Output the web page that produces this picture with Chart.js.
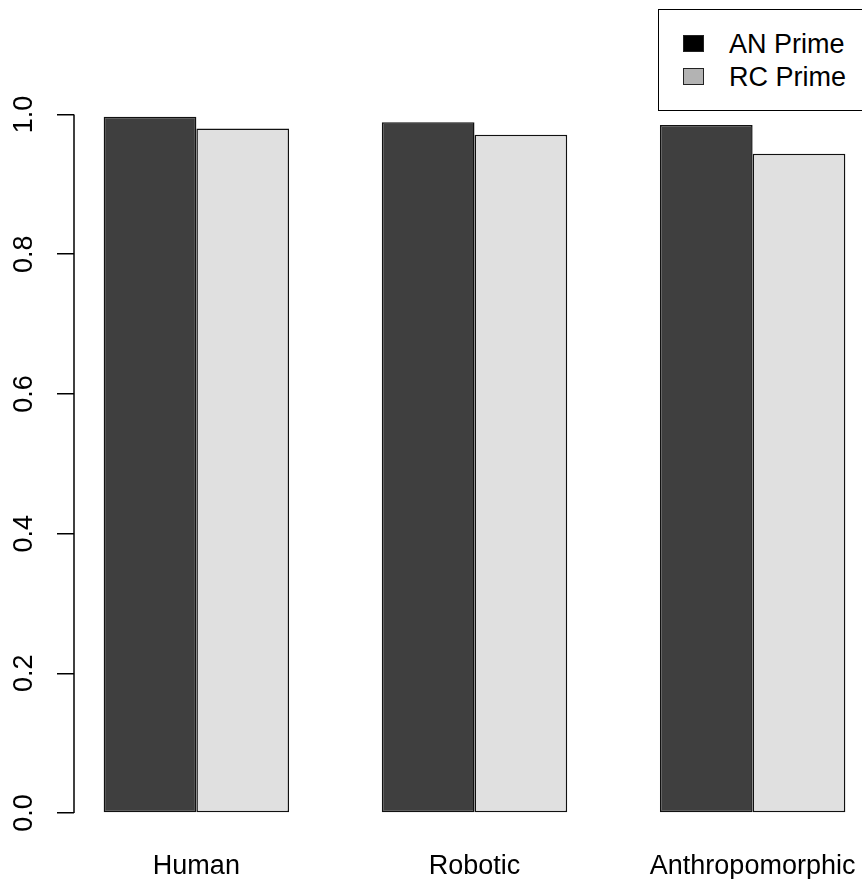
<!DOCTYPE html>
<html>
<head>
<meta charset="utf-8">
<script src="https://cdn.jsdelivr.net/npm/chart.js@4.4.1/dist/chart.umd.min.js"></script>
<style>
  html, body { margin: 0; padding: 0; background: #fff; overflow: hidden; }
  #wrap { position: relative; width: 880px; height: 879px; }
  #legend {
    position: absolute; left: 658px; top: 9px; width: 218px; height: 102px;
    border: 1.5px solid #000; box-sizing: border-box; background: #fff;
    font-family: "Liberation Sans", Arial, sans-serif; font-size: 27px; color: #000;
  }
  .item { position: absolute; left: 0; height: 32px; line-height: 32px; white-space: nowrap; }
  .swatch { position: absolute; left: 24px; top: 7px; width: 21px; height: 17px; box-sizing: border-box; border: 1px solid #222; }
  .lbl { position: absolute; left: 70px; top: 0; }
</style>
</head>
<body>
<div id="wrap">
  <canvas id="chart"></canvas>
  <div id="legend"></div>
</div>
<script>
var categories = ["Human", "Robotic", "Anthropomorphic"];
var seriesNames = ["AN Prime", "RC Prime"];
var anValues = [0.997, 0.989, 0.985];
var rcValues = [0.980, 0.971, 0.944];
var yTicks = [0, 0.2, 0.4, 0.6, 0.8, 1.0];

var barColors = ["#3f3f3f", "#e0e0e0"];
var legendColors = ["#000000", "#b3b3b3"];

Chart.defaults.font.family = "'Liberation Sans', Arial, sans-serif";
Chart.defaults.color = "#000";

function toPoints(values) {
  return values.map(function (v, i) { return { x: i, y: v }; });
}

// R-style axis line: only from first to last tick
var axisLine = {
  id: "axisLine",
  afterDraw: function (chart) {
    var y = chart.scales.y;
    var ctx = chart.ctx;
    var x = chart.chartArea.left;
    ctx.save();
    ctx.strokeStyle = "#000";
    ctx.lineWidth = 1.5;
    ctx.beginPath();
    ctx.moveTo(x, y.getPixelForValue(yTicks[0]));
    ctx.lineTo(x, y.getPixelForValue(yTicks[yTicks.length - 1]));
    ctx.stroke();
    ctx.restore();
  }
};

var ctx = document.getElementById("chart").getContext("2d");
var chart = new Chart(ctx, {
  type: "bar",
  data: {
    datasets: [
      {
        label: seriesNames[0],
        data: toPoints(anValues),
        backgroundColor: barColors[0],
        borderColor: "#111",
        borderWidth: 1.5,
        borderSkipped: false
      },
      {
        label: seriesNames[1],
        data: toPoints(rcValues),
        backgroundColor: barColors[1],
        borderColor: "#111",
        borderWidth: 1.5,
        borderSkipped: false
      }
    ]
  },
  options: {
    responsive: true,
    maintainAspectRatio: false,
    animation: false,
    categoryPercentage: 2 / 3,
    barPercentage: 1,
    layout: { padding: { left: 0, right: 5, top: 86.6, bottom: 0 } },
    plugins: { legend: { display: false }, tooltip: { enabled: false } },
    scales: {
      x: {
        type: "linear",
        offset: false,
        min: -0.44,
        max: 2.44,
        grid: { display: false, drawTicks: false },
        border: { display: false },
        afterBuildTicks: function (scale) {
          scale.ticks = categories.map(function (c, i) { return { value: i }; });
        },
        afterFit: function (scale) { scale.height = 38; },
        ticks: {
          padding: 9,
          maxRotation: 0,
          autoSkip: false,
          font: { size: 27 },
          color: "#000",
          callback: function (v) { return categories[v]; }
        }
      },
      y: {
        min: -0.04,
        max: 1.04,
        grid: { display: true, drawOnChartArea: false, drawTicks: true, tickLength: 17, color: "#000", lineWidth: 1.5 },
        border: { display: false },
        afterBuildTicks: function (scale) {
          scale.ticks = yTicks.map(function (v) { return { value: v }; });
        },
        afterFit: function (scale) { scale.width = 74; },
        ticks: {
          minRotation: 90,
          maxRotation: 90,
          crossAlign: "center",
          padding: 14,
          font: { size: 27 },
          color: "#000",
          callback: function (v) { return v.toFixed(1); }
        }
      }
    }
  },
  plugins: [axisLine]
});

// legend box
var legend = document.getElementById("legend");
seriesNames.forEach(function (name, i) {
  var item = document.createElement("div");
  item.className = "item";
  item.style.top = (18 + i * 33) + "px";
  var sw = document.createElement("span");
  sw.className = "swatch";
  sw.style.background = legendColors[i];
  var lbl = document.createElement("span");
  lbl.className = "lbl";
  lbl.textContent = name;
  item.appendChild(sw);
  item.appendChild(lbl);
  legend.appendChild(item);
});
</script>
</body>
</html>
